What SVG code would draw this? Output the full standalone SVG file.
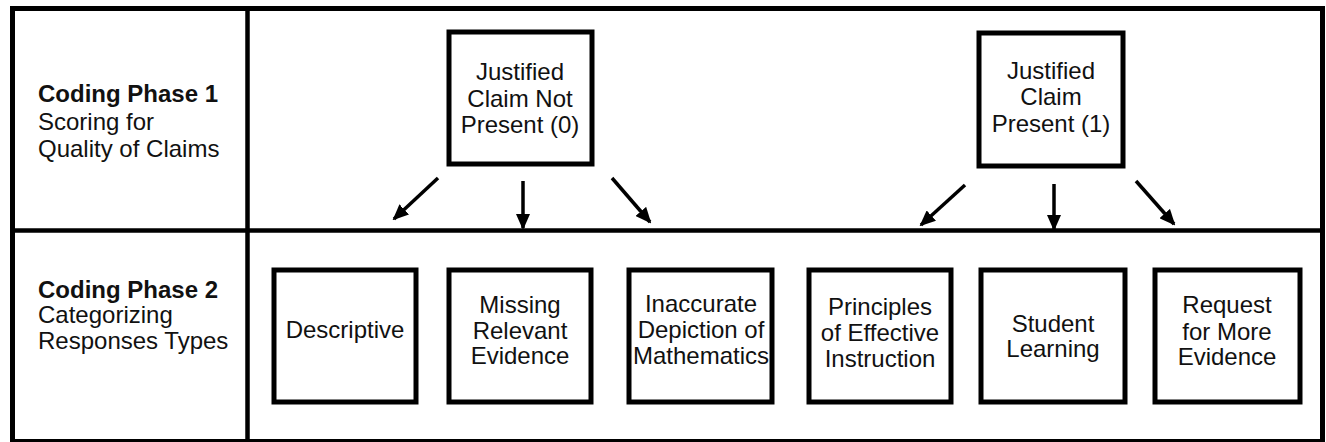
<svg xmlns="http://www.w3.org/2000/svg" width="1326" height="442" viewBox="0 0 1326 442">
<style>
.frame{fill:none;stroke:#000;stroke-width:5}
.div{stroke:#000;stroke-width:4.5}
.box{fill:#fff;stroke:#000;stroke-width:5}
.t{font-family:"Liberation Sans",Arial,sans-serif;font-size:24px;fill:#111;text-anchor:middle}
.lbl{font-family:"Liberation Sans",Arial,sans-serif;font-size:24px;fill:#111}
.b{font-weight:bold}
.arr{stroke:#000;stroke-width:3.5;fill:none;marker-end:url(#ah)}
</style>
<defs>
<marker id="ah" markerUnits="userSpaceOnUse" markerWidth="16" markerHeight="14" refX="14" refY="7" orient="auto">
<path d="M0,0 L16,7 L0,14 Z" fill="#000"/>
</marker>
</defs>
<rect width="1326" height="442" fill="#fff"/>
<g id="frame">
<rect class="frame" x="12.5" y="8.5" width="1310" height="433"/>
<line class="div" x1="247.5" y1="8" x2="247.5" y2="442"/>
<line class="div" x1="12" y1="230.5" x2="1323" y2="230.5"/>
</g>
<g id="phase1-label">
<text class="lbl b" x="38" y="102">Coding Phase 1</text>
<text class="lbl" x="38" y="130">Scoring for</text>
<text class="lbl" x="38" y="157">Quality of Claims</text>
</g>
<g id="phase2-label">
<text class="lbl b" x="38" y="298">Coding Phase 2</text>
<text class="lbl" x="38" y="323">Categorizing</text>
<text class="lbl" x="38" y="349">Responses Types</text>
</g>
<g id="not-present">
<rect class="box" x="449" y="32" width="143" height="132"/>
<text class="t" x="520" y="80">Justified</text>
<text class="t" x="520" y="107">Claim Not</text>
<text class="t" x="520" y="133">Present (0)</text>
</g>
<g id="present">
<rect class="box" x="979" y="33" width="144" height="133"/>
<text class="t" x="1051" y="79">Justified</text>
<text class="t" x="1051" y="105">Claim</text>
<text class="t" x="1051" y="132">Present (1)</text>
</g>
<g id="descriptive">
<rect class="box" x="274" y="270" width="142" height="132"/>
<text class="t" x="345" y="338">Descriptive</text>
</g>
<g id="missing">
<rect class="box" x="449" y="270" width="142" height="132"/>
<text class="t" x="520" y="313">Missing</text>
<text class="t" x="520" y="339">Relevant</text>
<text class="t" x="520" y="364">Evidence</text>
</g>
<g id="inaccurate">
<rect class="box" x="629" y="270" width="143" height="132"/>
<text class="t" x="701" y="312">Inaccurate</text>
<text class="t" x="701" y="338">Depiction of</text>
<text class="t" x="701" y="364">Mathematics</text>
</g>
<g id="principles">
<rect class="box" x="809" y="270" width="142" height="132"/>
<text class="t" x="880" y="315">Principles</text>
<text class="t" x="880" y="341">of Effective</text>
<text class="t" x="880" y="367">Instruction</text>
</g>
<g id="student">
<rect class="box" x="981" y="270" width="144" height="132"/>
<text class="t" x="1053" y="332">Student</text>
<text class="t" x="1053" y="357">Learning</text>
</g>
<g id="request">
<rect class="box" x="1155" y="270" width="145" height="132"/>
<text class="t" x="1227" y="313">Request</text>
<text class="t" x="1227" y="340">for More</text>
<text class="t" x="1227" y="365">Evidence</text>
</g>
<g id="connectors">
<line class="arr" x1="438" y1="178" x2="394" y2="219"/>
<line class="arr" x1="523" y1="181" x2="523" y2="228"/>
<line class="arr" x1="612" y1="178" x2="650" y2="222"/>
<line class="arr" x1="965" y1="185" x2="921" y2="225"/>
<line class="arr" x1="1054" y1="184" x2="1054" y2="229"/>
<line class="arr" x1="1136" y1="181" x2="1174" y2="224"/>
</g>
</svg>
